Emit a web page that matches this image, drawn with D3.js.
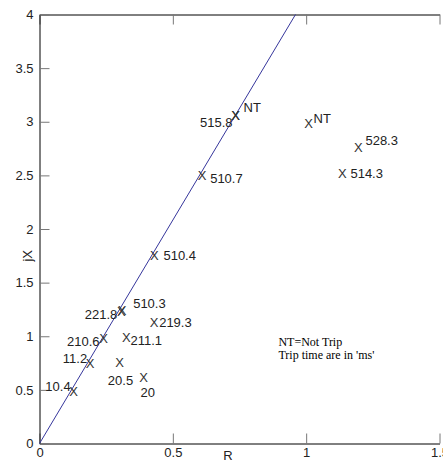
<!DOCTYPE html>
<html>
<head>
<meta charset="utf-8">
<script src="https://cdn.jsdelivr.net/npm/d3@7"></script>
<style>
  body { margin: 0; background: #fff; }
  svg { display: block; }
  .tick text { font-family: "Liberation Sans", Arial, sans-serif; font-size: 13px; fill: #222; }
</style>
</head>
<body>
<svg id="chart" width="443" height="464"></svg>
<script>
// measured points: R (x) and jX (y), with their trip-time labels
var rVals  = [0.128, 0.19, 0.24, 0.307, 0.31, 0.43, 0.326, 0.30, 0.39, 0.431, 0.61, 0.735, 0.735, 1.009, 1.196, 1.136];
var jxVals = [0.49, 0.745, 0.98, 1.23, 1.24, 1.13, 0.99, 0.755, 0.615, 1.75, 2.50, 3.06, 3.06, 2.99, 2.76, 2.52];
var tripLabels = ["10.4", "11.2", "210.6", "221.8", "510.3", "219.3", "211.1", "20.5", "20",
                  "510.4", "510.7", "515.8", "NT", "NT", "528.3", "514.3"];

// reference line
var lineR  = [0, 0.96];
var lineJX = [0, 4];

var xTicks = [0, 0.5, 1, 1.5];
var yTicks = [0, 0.5, 1, 1.5, 2, 2.5, 3, 3.5, 4];
var noteLines = ["NT=Not Trip", "Trip time are in 'ms'"];

// label placement next to each marker: [anchor, dx, dy]
var labelPos = [
    ["end", -3, -5], ["end", -3, -5], ["end", -4, 3], ["end", -4, 3],
    ["start", 11, -7], ["start", 5, 0], ["start", 4, 3], ["middle", 1, 18],
    ["start", -3, 15], ["start", 9, 0], ["start", 8, 3], ["end", -3, 7],
    ["start", 8, -8], ["start", 5, -5], ["start", 7, -7], ["start", 8, 0]
];

var svg = d3.select("#chart");

var x = d3.scaleLinear().domain([0, 1.5]).range([39.5, 439.5]);
var y = d3.scaleLinear().domain([0, 4]).range([443.5, 14.5]);

var fmt = d3.format("");

// bottom axis
var gx = svg.append("g")
    .attr("transform", "translate(0," + y(0) + ")")
    .call(d3.axisBottom(x).tickValues(xTicks).tickFormat(fmt).tickSize(-10).tickSizeOuter(0).tickPadding(6));

// top axis (ticks only)
var gt = svg.append("g")
    .attr("transform", "translate(0," + y(4) + ")")
    .call(d3.axisTop(x).tickValues(xTicks).tickFormat("").tickSize(-10).tickSizeOuter(0));

// left axis
var gy = svg.append("g")
    .attr("transform", "translate(" + x(0) + ",0)")
    .call(d3.axisLeft(y).tickValues(yTicks).tickFormat(fmt).tickSize(-10).tickSizeOuter(0).tickPadding(6));

[gx, gt, gy].forEach(function(g){
    g.select(".domain").attr("stroke", "#000");
    g.selectAll(".tick line").attr("stroke", "#777");
});
gx.selectAll(".tick text").attr("dy", "0.6em");

// axis titles
svg.append("text")
    .attr("x", 228).attr("y", 460)
    .attr("text-anchor", "middle")
    .style("font-family", "Liberation Sans, Arial, sans-serif")
    .style("font-size", "13px").style("fill", "#222")
    .text("R");

svg.append("text")
    .attr("transform", "translate(27," + y(1.75) + ") rotate(-90)")
    .attr("text-anchor", "middle")
    .attr("dy", "0.35em")
    .style("font-family", "Liberation Sans, Arial, sans-serif")
    .style("font-size", "13px").style("fill", "#222")
    .text("jX");

// reference line
svg.append("path")
    .datum(d3.zip(lineR, lineJX))
    .attr("fill", "none")
    .attr("stroke", "#36369c")
    .attr("stroke-width", 1)
    .attr("d", d3.line()
        .x(function(d) { return x(d[0]); })
        .y(function(d) { return y(d[1]); }));

// markers and labels
var pts = d3.range(rVals.length).map(function(i){
    return {r: rVals[i], jx: jxVals[i], label: tripLabels[i], pos: labelPos[i]};
});

var g = svg.append("g")
    .style("font-family", "Liberation Sans, Arial, sans-serif")
    .style("font-size", "13px")
    .style("fill", "#222");

g.selectAll("text.mark")
    .data(pts)
    .enter().append("text")
    .attr("class", "mark")
    .attr("x", function(d) { return x(d.r); })
    .attr("y", function(d) { return y(d.jx); })
    .attr("text-anchor", "middle")
    .attr("dy", "0.36em")
    .style("fill", "#333")
    .text("X");

g.selectAll("text.lbl")
    .data(pts)
    .enter().append("text")
    .attr("class", "lbl")
    .attr("x", function(d) { return x(d.r) + d.pos[1]; })
    .attr("y", function(d) { return y(d.jx) + d.pos[2]; })
    .attr("text-anchor", function(d) { return d.pos[0]; })
    .attr("dy", "0.36em")
    .text(function(d) { return d.label; });

// note
svg.append("g")
    .selectAll("text")
    .data(noteLines)
    .enter().append("text")
    .attr("x", x(0.896))
    .attr("y", function(d, i) { return y(0.91) + i * 13; })
    .style("font-family", "Liberation Serif, Times New Roman, serif")
    .style("font-size", "12px")
    .style("fill", "#000")
    .text(function(d) { return d; });
</script>
</body>
</html>
